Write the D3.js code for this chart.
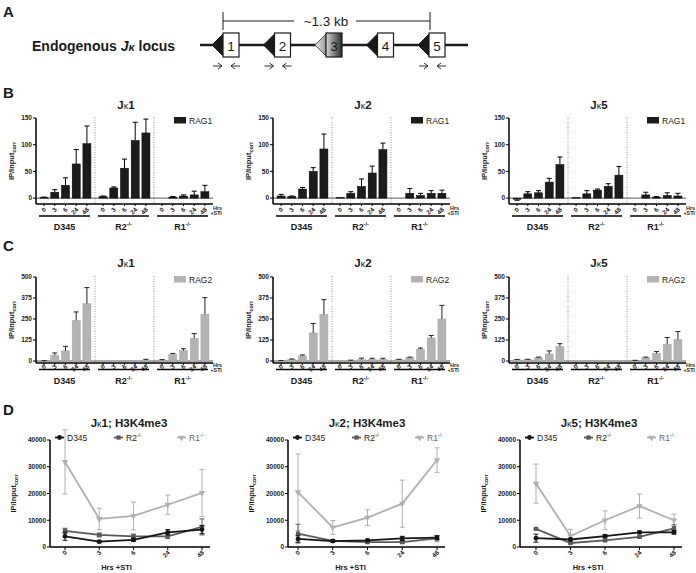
<!DOCTYPE html>
<html>
<head>
<meta charset="utf-8">
<script src="https://cdn.jsdelivr.net/npm/d3@7"></script>
<style>
  body { margin: 0; background: #fff; }
  svg text { font-family: "Liberation Sans", Arial, Helvetica, sans-serif; }
</style>
</head>
<body>
<script>
// ---------- data ----------
const timepoints = ["0", "3", "6", "24", "48"];
const cellLines = ["D345", "R2", "R1"];

// panel B : RAG1 ChIP (D345 x5, R2-/- x5, R1-/- x5)
const rag1Jk1 = [1, 11, 24, 64, 102, 3, 19, 56, 108, 122, 0, 2, 4, 6, 12];
const rag1Jk1Err = [1, 5, 14, 27, 33, 1, 2, 17, 34, 26, 0, 1, 2, 7, 12];
const rag1Jk2 = [4, 3, 17, 50, 92, 1, 9, 22, 47, 91, 0, 9, 5, 9, 9];
const rag1Jk2Err = [3, 1, 3, 7, 28, 0, 3, 14, 13, 12, 0, 9, 4, 5, 6];
const rag1Jk5 = [-2, 8, 10, 30, 63, 1, 8, 15, 22, 43, 0, 6, 2, 5, 4];
const rag1Jk5Err = [2, 4, 4, 7, 14, 0, 6, 2, 5, 16, 0, 5, 1, 5, 5];

// panel C : RAG2 ChIP
const rag2Jk1 = [1, 34, 60, 242, 341, 0, 0, 1, 1, 6, 6, 40, 62, 135, 278];
const rag2Jk1Err = [1, 14, 27, 50, 96, 0, 0, 0, 0, 4, 2, 5, 11, 28, 99];
const rag2Jk2 = [2, 10, 30, 167, 276, 0, 3, 8, 11, 9, 8, 20, 70, 137, 250];
const rag2Jk2Err = [1, 2, 6, 56, 89, 0, 2, 9, 5, 7, 2, 3, 7, 15, 81];
const rag2Jk5 = [7, 8, 20, 42, 87, 0, 1, 2, 2, 1, 3, 20, 45, 100, 128];
const rag2Jk5Err = [2, 2, 3, 18, 16, 0, 0, 0, 0, 0, 1, 3, 11, 40, 47];

// panel D : H3K4me3 ChIP
const h3Jk1D345 = [4000, 2000, 2700, 5500, 6500];
const h3Jk1D345Err = [1500, 400, 600, 1000, 1500];
const h3Jk1R2 = [6000, 4500, 4000, 4000, 7500];
const h3Jk1R2Err = [1000, 700, 800, 800, 3000];
const h3Jk1R1 = [31800, 10500, 11600, 15800, 20200];
const h3Jk1R1Err = [12000, 4000, 5200, 3600, 8800];

const h3Jk2D345 = [3000, 2200, 2500, 3200, 3500];
const h3Jk2D345Err = [1200, 400, 400, 800, 700];
const h3Jk2R2 = [5000, 2300, 1800, 1800, 3200];
const h3Jk2R2Err = [3500, 400, 400, 400, 1000];
const h3Jk2R1 = [20500, 7300, 11000, 16200, 32500];
const h3Jk2R1Err = [14300, 2600, 2900, 8800, 4600];

const h3Jk5D345 = [3300, 2800, 4100, 5500, 5500];
const h3Jk5D345Err = [1500, 500, 500, 500, 700];
const h3Jk5R2 = [6800, 1500, 2500, 3800, 7000];
const h3Jk5R2Err = [300, 300, 500, 500, 1300];
const h3Jk5R1 = [23700, 4100, 10000, 15300, 10000];
const h3Jk5R1Err = [7300, 2500, 3500, 4500, 2300];

const jSegments = ["1", "2", "3", "4", "5"];

// ---------- setup ----------
const svg = d3.select("body").append("svg")
    .attr("width", 696)
    .attr("height", 573);

const ink = "#1a1a1a";

// panel letters
[["A", 3, 17], ["B", 3, 98], ["C", 3, 251], ["D", 3, 415]].forEach(d => {
  svg.append("text").attr("x", d[1]).attr("y", d[2])
     .attr("font-size", 15).attr("font-weight", "bold").attr("fill", ink).text(d[0]);
});

// ---------- panel A : locus cartoon ----------
const gA = svg.append("g");
gA.append("text").attr("x", 32).attr("y", 50.5)
  .attr("font-size", 14).attr("font-weight", "bold").attr("fill", ink)
  .html('Endogenous <tspan font-style="italic">J</tspan><tspan font-style="italic" font-size="11">κ</tspan> locus');

const defs = svg.append("defs");
const grad = defs.append("linearGradient").attr("id", "pseudo");
grad.append("stop").attr("offset", "0%").attr("stop-color", "#d8d8d8");
grad.append("stop").attr("offset", "100%").attr("stop-color", "#2a2a2a");
const grad2 = defs.append("linearGradient").attr("id", "pseudoTri");
grad2.append("stop").attr("offset", "0%").attr("stop-color", "#e8e8e8");
grad2.append("stop").attr("offset", "100%").attr("stop-color", "#9a9a9a");

gA.append("line").attr("x1", 200).attr("x2", 468).attr("y1", 45).attr("y2", 45)
  .attr("stroke", ink).attr("stroke-width", 2.6);

const segX = d3.scalePoint().domain(jSegments).range([223, 429]);
jSegments.forEach(s => {
  const x = segX(s), pseudo = s === "3";
  gA.append("path")
    .attr("d", `M${x - 11},45 L${x},34 L${x},56 Z`)
    .attr("fill", pseudo ? "url(#pseudoTri)" : ink)
    .attr("stroke", pseudo ? "#555" : ink).attr("stroke-width", 1);
  gA.append("rect").attr("x", x).attr("y", 33).attr("width", 16).attr("height", 24)
    .attr("fill", pseudo ? "url(#pseudo)" : "#fff").attr("stroke", ink).attr("stroke-width", 1.2);
  gA.append("text").attr("x", x + 8).attr("y", 50.5).attr("text-anchor", "middle")
    .attr("font-size", 13.5).attr("fill", ink).text(s);
});

// 1.3 kb bracket
gA.append("path").attr("d", "M223,12 V30 M223,21 H294 M356,21 H430 M430,12 V30")
  .attr("fill", "none").attr("stroke", ink).attr("stroke-width", 1);
gA.append("text").attr("x", 326).attr("y", 26).attr("text-anchor", "middle")
  .attr("font-size", 13.5).attr("fill", ink).text("~1.3 kb");

// primer arrows under J1, J2, J5
["1", "2", "5"].forEach(s => {
  const x = segX(s);
  const a = x - 10, b = x + 17;
  gA.append("path")
    .attr("d", `M${a},66 H${a + 9} M${a + 5},63 L${a + 9},66 L${a + 5},69 ` +
               `M${b},66 H${b - 9} M${b - 5},63 L${b - 9},66 L${b - 5},69`)
    .attr("fill", "none").attr("stroke", ink).attr("stroke-width", 0.9);
});

// ---------- helpers ----------
function groupLabel(sel, name) {
  if (name === "D345") { sel.text(name); return; }
  sel.text(name);
  sel.append("tspan").attr("font-size", "0.6em").attr("dy", -4).text("-/-");
}

function yLabel(g, x, y) {
  const t = g.append("text")
    .attr("transform", `translate(${x},${y}) rotate(-90)`)
    .attr("text-anchor", "middle").attr("font-size", 7.5).attr("font-weight", "bold").attr("fill", ink)
    .text("IP/Input");
  t.append("tspan").attr("font-size", 5.5).attr("dy", 2).text("corr");
}

function title(g, x, y, seg, extra) {
  const t = g.append("text").attr("x", x).attr("y", y).attr("text-anchor", "middle")
    .attr("font-size", 11.5).attr("font-weight", "bold").attr("fill", ink);
  t.append("tspan").text("J");
  t.append("tspan").attr("font-size", 9).attr("font-weight", "normal").text("κ");
  t.append("tspan").text(seg + (extra || ""));
}

// ---------- panels B and C : bar charts ----------
const colLeft = [36, 273, 509];
const plotW = 177;

const barRows = [
  { top: 118, bottom: 204, domain: [-11, 150], ticks: [0, 50, 100, 150], titleY: 109,
    legend: "RAG1", fill: "#1c1c1c", errColor: "#000", lblDy: 4, underY: 216, groupY: 230,
    sets: [[rag1Jk1, rag1Jk1Err], [rag1Jk2, rag1Jk2Err], [rag1Jk5, rag1Jk5Err]] },
  { top: 277, bottom: 363, domain: [-12, 500], ticks: [0, 125, 250, 375, 500], titleY: 267,
    legend: "RAG2", fill: "#b3b3b3", errColor: "#222", lblDy: 2, underY: 369.5, groupY: 384,
    sets: [[rag2Jk1, rag2Jk1Err], [rag2Jk2, rag2Jk2Err], [rag2Jk5, rag2Jk5Err]] }
];
const segTitles = ["1", "2", "5"];

barRows.forEach(row => {
  row.sets.forEach((set, ci) => {
    const left = colLeft[ci];
    const g = svg.append("g").attr("transform", `translate(${left},0)`);
    const y = d3.scaleLinear().domain(row.domain).range([row.bottom, row.top]);
    const gx = d3.scaleBand().domain(cellLines).range([0, plotW]);
    const tx = d3.scaleBand().domain(timepoints).range([0, gx.bandwidth()])
      .paddingInner(0.25).paddingOuter(0.38);

    const bars = set[0].map((v, i) => ({
      cell: cellLines[Math.floor(i / 5)], t: timepoints[i % 5], v: v, e: set[1][i]
    }));
    const cx = d => gx(d.cell) + tx(d.t) + tx.bandwidth() / 2;

    title(g, 90, row.titleY, segTitles[ci]);

    // dotted separators
    cellLines.slice(1).forEach(c => {
      g.append("line").attr("x1", gx(c)).attr("x2", gx(c))
        .attr("y1", row.top - 1).attr("y2", row.bottom)
        .attr("stroke", "#777").attr("stroke-width", 0.8).attr("stroke-dasharray", "1,1.5");
    });

    // zero line
    g.append("line").attr("x1", 0).attr("x2", plotW).attr("y1", y(0)).attr("y2", y(0))
      .attr("stroke", "#555").attr("stroke-width", 1);

    // bars
    g.selectAll("rect.bar").data(bars).enter().append("rect")
      .attr("class", "bar")
      .attr("x", d => gx(d.cell) + tx(d.t))
      .attr("width", tx.bandwidth())
      .attr("y", d => y(Math.max(0, d.v)))
      .attr("height", d => Math.abs(y(d.v) - y(0)))
      .attr("fill", row.fill)
      .attr("stroke", row.fill === "#1c1c1c" ? "#000" : "#a5a5a5").attr("stroke-width", 0.5);

    // error bars (one-sided)
    const eb = bars.filter(d => d.e > 0);
    g.selectAll("path.err").data(eb).enter().append("path")
      .attr("d", d => {
        const end = y(d.v + (d.v < 0 ? -d.e : d.e));
        return `M${cx(d)},${y(d.v)} V${end} M${cx(d) - 2.5},${end} H${cx(d) + 2.5}`;
      })
      .attr("fill", "none").attr("stroke", row.errColor).attr("stroke-width", 1);

    // y axis
    g.append("line").attr("x1", 0).attr("x2", 0).attr("y1", row.top).attr("y2", row.bottom)
      .attr("stroke", "#000").attr("stroke-width", 1.5);
    row.ticks.forEach(t => {
      g.append("line").attr("x1", -3).attr("x2", 0).attr("y1", y(t)).attr("y2", y(t))
        .attr("stroke", "#000").attr("stroke-width", 1);
      g.append("text").attr("x", -4).attr("y", y(t) + 2.3).attr("text-anchor", "end")
        .attr("font-size", 6.5).attr("font-weight", "bold").attr("fill", "#222").text(t);
    });
    yLabel(g, -22, (row.top + row.bottom) / 2);

    // x axis
    g.append("line").attr("x1", 0).attr("x2", plotW).attr("y1", row.bottom).attr("y2", row.bottom)
      .attr("stroke", "#000").attr("stroke-width", 1.5);
    bars.forEach(d => {
      g.append("line").attr("x1", cx(d)).attr("x2", cx(d))
        .attr("y1", row.bottom).attr("y2", row.bottom + 2).attr("stroke", "#000");
      g.append("text")
        .attr("transform", `translate(${cx(d) + 2.5},${row.bottom + row.lblDy + 2}) rotate(-45)`)
        .attr("text-anchor", "end").attr("font-size", 6.3).attr("font-weight", "bold")
        .attr("fill", "#222").text(d.t);
    });
    g.append("text").attr("x", plotW).attr("y", row.bottom + row.lblDy + 1.5)
      .attr("font-size", 5.5).attr("font-weight", "bold").attr("fill", "#222").text("Hrs");
    g.append("text").attr("x", plotW - 2.5).attr("y", row.bottom + row.lblDy + 7)
      .attr("font-size", 5.3).attr("font-weight", "bold").attr("fill", "#222").text("+STI");

    // group underlines and labels
    cellLines.forEach(c => {
      g.append("line").attr("x1", gx(c) + 3).attr("x2", gx(c) + gx.bandwidth() - 5)
        .attr("y1", row.underY).attr("y2", row.underY).attr("stroke", "#000").attr("stroke-width", 1.3);
      g.append("text").attr("x", gx(c) + gx.bandwidth() / 2 - 1).attr("y", row.groupY)
        .attr("text-anchor", "middle").attr("font-size", 9).attr("font-weight", "bold").attr("fill", ink)
        .call(groupLabel, c);
    });

    // legend
    g.append("rect").attr("x", 138).attr("y", row.top - 1).attr("width", 12).attr("height", 6.5)
      .attr("fill", row.fill);
    g.append("text").attr("x", 153).attr("y", row.top + 5.5)
      .attr("font-size", 8.5).attr("fill", ink).text(row.legend);
  });
});

// ---------- panel D : H3K4me3 line charts ----------
const lineSeries = [
  { name: "D345", color: "#151515", shape: d3.symbolCircle },
  { name: "R2", color: "#5a5a5a", shape: d3.symbolSquare },
  { name: "R1", color: "#b0b0b0", shape: d3.symbolTriangle }
];
const linePanels = [
  { left: 50, p0: 65, p1: 202, seg: "1",
    vals: [[h3Jk1D345, h3Jk1D345Err], [h3Jk1R2, h3Jk1R2Err], [h3Jk1R1, h3Jk1R1Err]] },
  { left: 288, p0: 298, p1: 437, seg: "2",
    vals: [[h3Jk2D345, h3Jk2D345Err], [h3Jk2R2, h3Jk2R2Err], [h3Jk2R1, h3Jk2R1Err]] },
  { left: 520, p0: 536, p1: 674, seg: "5",
    vals: [[h3Jk5D345, h3Jk5D345Err], [h3Jk5R2, h3Jk5R2Err], [h3Jk5R1, h3Jk5R1Err]] }
];
const dTop = 440, dBottom = 547;

linePanels.forEach(p => {
  const g = svg.append("g");
  const x = d3.scalePoint().domain(timepoints).range([p.p0, p.p1]);
  const y = d3.scaleLinear().domain([0, 40000]).range([dBottom, dTop]);
  const axEnd = p.p1 + 8;

  title(g, p.left + 79, 427, p.seg, "; H3K4me3");

  // axes
  g.append("line").attr("x1", p.left).attr("x2", p.left).attr("y1", dTop).attr("y2", dBottom)
    .attr("stroke", "#000").attr("stroke-width", 1.5);
  g.append("line").attr("x1", p.left).attr("x2", axEnd).attr("y1", dBottom).attr("y2", dBottom)
    .attr("stroke", "#000").attr("stroke-width", 1.5);
  y.ticks(4).forEach(t => {
    g.append("line").attr("x1", p.left - 3).attr("x2", p.left).attr("y1", y(t)).attr("y2", y(t))
      .attr("stroke", "#000");
    g.append("text").attr("x", p.left - 4).attr("y", y(t) + 2.3).attr("text-anchor", "end")
      .attr("font-size", 6.5).attr("font-weight", "bold").attr("fill", "#222").text(t);
  });
  timepoints.forEach(t => {
    g.append("line").attr("x1", x(t)).attr("x2", x(t)).attr("y1", dBottom).attr("y2", dBottom + 3)
      .attr("stroke", "#000");
    g.append("text")
      .attr("transform", `translate(${x(t) + 2.5},${dBottom + 6}) rotate(-45)`)
      .attr("text-anchor", "end").attr("font-size", 6.3).attr("font-weight", "bold")
      .attr("fill", "#222").text(t);
  });
  g.append("text").attr("x", x("6") - 17).attr("y", 570).attr("text-anchor", "middle")
    .attr("font-size", 7.5).attr("font-weight", "bold").attr("fill", "#222").text("Hrs +STI");
  yLabel(g, p.left - 34, (dTop + dBottom) / 2);

  const line = d3.line().x((d, i) => x(timepoints[i])).y(d => y(d));

  // draw light series first so dark ones sit on top
  [2, 1, 0].forEach(si => {
    const s = lineSeries[si], m = p.vals[si][0], e = p.vals[si][1];
    g.append("path").attr("d", line(m)).attr("fill", "none")
      .attr("stroke", s.color).attr("stroke-width", 1.8);
    m.forEach((v, i) => {
      const xx = x(timepoints[i]);
      const lo = y(Math.max(0, v - e[i])), hi = y(v + e[i]);
      g.append("path")
        .attr("d", `M${xx},${lo} V${hi} M${xx - 2.5},${hi} H${xx + 2.5} M${xx - 2.5},${lo} H${xx + 2.5}`)
        .attr("fill", "none").attr("stroke", s.color).attr("stroke-width", 1);
      g.append("path")
        .attr("d", d3.symbol().type(s.shape).size(18)())
        .attr("transform", `translate(${xx},${y(v)})${si === 2 ? " rotate(180)" : ""}`)
        .attr("fill", s.color);
    });
  });

  // legend
  const legX = [p.left + 5, p.left + 64, p.left + 127];
  lineSeries.forEach((s, i) => {
    const lx = legX[i];
    g.append("line").attr("x1", lx).attr("x2", lx + 9).attr("y1", 437.5).attr("y2", 437.5)
      .attr("stroke", s.color).attr("stroke-width", 1.8);
    g.append("path").attr("d", d3.symbol().type(s.shape).size(18)())
      .attr("transform", `translate(${lx + 4.5},437.5)${i === 2 ? " rotate(180)" : ""}`)
      .attr("fill", s.color);
    g.append("text").attr("x", lx + 12).attr("y", 440.5)
      .attr("font-size", 8.5).attr("fill", i === 2 ? "#666" : ink)
      .call(groupLabel, s.name);
  });
});
</script>
</body>
</html>
